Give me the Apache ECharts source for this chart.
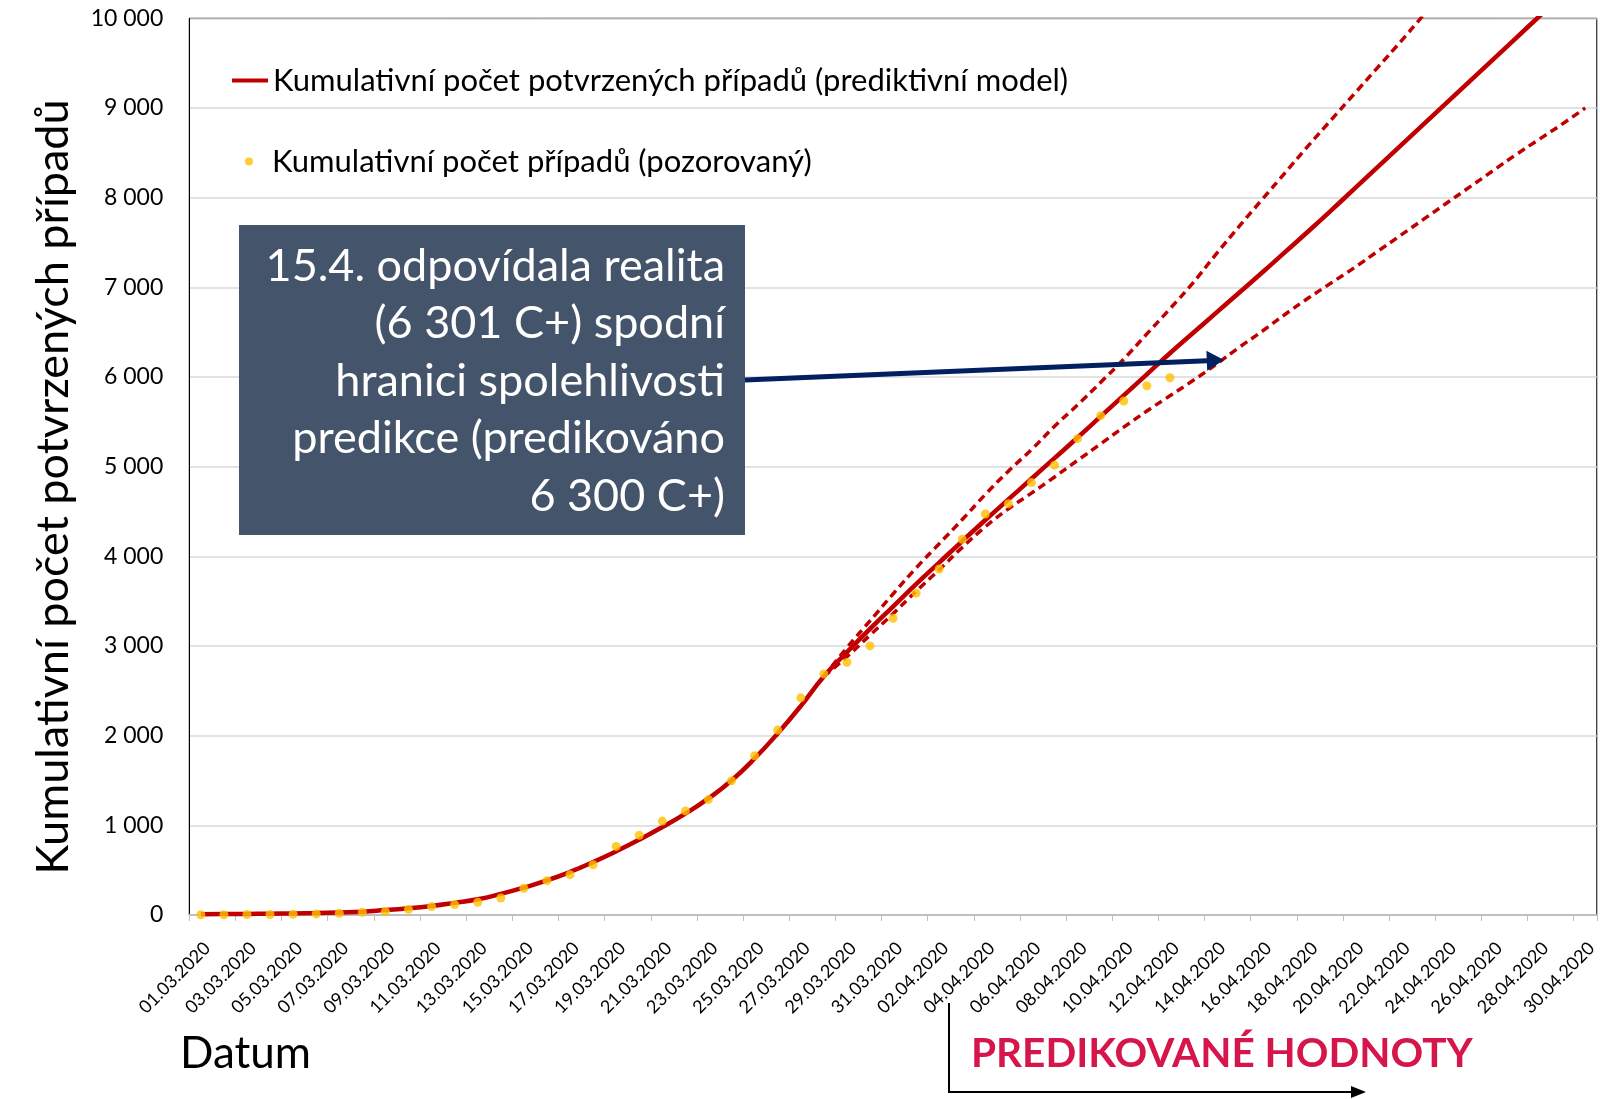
<!DOCTYPE html>
<html>
<head>
<meta charset="utf-8">
<title>Kumulativní počet potvrzených případů</title>
<script src="https://cdn.jsdelivr.net/npm/echarts@6/dist/echarts.min.js"></script>
<style>
  html, body { margin: 0; padding: 0; background: #fff; }
  #chart { width: 1600px; height: 1099px; }
</style>
</head>
<body>
<div id="chart"></div>
<script>
// dny 01.03.2020 - 30.04.2020
const dates = [
  '01.03.2020', '02.03.2020', '03.03.2020', '04.03.2020', '05.03.2020', '06.03.2020', '07.03.2020',
  '08.03.2020', '09.03.2020', '10.03.2020', '11.03.2020', '12.03.2020', '13.03.2020', '14.03.2020',
  '15.03.2020', '16.03.2020', '17.03.2020', '18.03.2020', '19.03.2020', '20.03.2020', '21.03.2020',
  '22.03.2020', '23.03.2020', '24.03.2020', '25.03.2020', '26.03.2020', '27.03.2020', '28.03.2020',
  '29.03.2020', '30.03.2020', '31.03.2020', '01.04.2020', '02.04.2020', '03.04.2020', '04.04.2020',
  '05.04.2020', '06.04.2020', '07.04.2020', '08.04.2020', '09.04.2020', '10.04.2020', '11.04.2020',
  '12.04.2020', '13.04.2020', '14.04.2020', '15.04.2020', '16.04.2020', '17.04.2020', '18.04.2020',
  '19.04.2020', '20.04.2020', '21.04.2020', '22.04.2020', '23.04.2020', '24.04.2020', '25.04.2020',
  '26.04.2020', '27.04.2020', '28.04.2020', '29.04.2020', '30.04.2020'
];

// pozorovane hodnoty (01.03. - 12.04.)
const observed = [
  3, 3, 5, 5, 8, 12, 19, 31, 38, 63, 94, 116, 141, 189, 298, 383, 450, 560, 765, 889,
  1047, 1161, 1287, 1497, 1775, 2062, 2422, 2689, 2817, 3001, 3308, 3589, 3858, 4190,
  4472, 4587, 4822, 5017, 5312, 5569, 5732, 5902, 5991
];

// prediktivni model
const model = [
  8, 10, 12, 15, 18, 22, 28, 36, 55, 75, 100, 135, 175, 235, 305, 385, 480, 590, 710, 840,
  980, 1130, 1300, 1500, 1745, 2025, 2330, 2660, 2930, 3190, 3440, 3690, 3930, 4170, 4405,
  4635, 4865, 5095, 5325, 5560, 5795, 6030, 6265, 6490, 6715, 6940, 7165, 7395, 7625, 7860,
  8100, 8340, 8580, 8820, 9060, 9300, 9540, 9780, 10020, 10260, 10500
];

// meze spolehlivosti, od 28.03.
const boundStart = 27;
const upperBound = [
  2660, 2980, 3280, 3580, 3870, 4140, 4410, 4690, 4950, 5190, 5450, 5690, 5940, 6200,
  6480, 6760, 7050, 7370, 7680, 7980, 8280, 8580, 8870, 9160, 9450, 9740, 10040, 10340
];
const lowerBound = [
  2660, 2880, 3120, 3360, 3610, 3850, 4100, 4330, 4530, 4705, 4885, 5070, 5255, 5440,
  5620, 5790, 5960, 6140, 6330, 6510, 6700, 6880, 7050, 7220, 7400, 7580, 7760, 7940,
  8120, 8300, 8480, 8650, 8820, 9000
];

const modelName = 'Kumulativní počet potvrzených případů (prediktivní model)';
const observedName = 'Kumulativní počet případů (pozorovaný)';
const noteText = '15.4. odpovídala realita\n(6 301 C+) spodní\nhranici spolehlivosti\npredikce (predikováno\n6 300 C+)';

const FONT = 'Lato';
const RED = '#c00000';

function pad(arr) {
  return new Array(boundStart).fill(null).concat(arr);
}

function fmt(v) {
  return String(v).replace(/\B(?=(\d{3})+(?!\d))/g, ' ');
}

const chart = echarts.init(document.getElementById('chart'));

const option = {
  animation: false,
  backgroundColor: '#fff',
  grid: {
    left: 189.3,
    top: 18.3,
    width: 1418.3,
    height: 896.7,
    show: true,
    borderColor: '#000',
    borderWidth: 1,
    backgroundColor: 'transparent'
  },
  legend: [
    {
      data: [{ name: modelName, icon: 'rect' }],
      left: 232,
      top: 65,
      padding: 0,
      itemWidth: 36,
      itemHeight: 4,
      selectedMode: false,
      textStyle: { fontFamily: FONT, fontSize: 31, color: '#000', lineHeight: 30 }
    },
    {
      data: [{ name: observedName, icon: 'circle' }],
      left: 245,
      top: 146,
      padding: 0,
      itemWidth: 36,
      itemHeight: 8,
      selectedMode: false,
      textStyle: { fontFamily: FONT, fontSize: 31, color: '#000', lineHeight: 30 }
    }
  ],
  xAxis: {
    type: 'category',
    data: dates,
    boundaryGap: true,
    axisLine: { lineStyle: { color: '#bfbfbf', width: 2 } },
    axisTick: { show: true, interval: 1, length: 6, lineStyle: { color: '#bfbfbf' } },
    axisLabel: {
      interval: 1,
      rotate: 45,
      margin: 24,
      verticalAlign: 'top',
      fontFamily: FONT,
      fontSize: 18,
      color: '#000'
    },
    splitLine: { show: false }
  },
  yAxis: {
    type: 'value',
    min: 0,
    max: 10000,
    interval: 1000,
    axisLine: { show: true, lineStyle: { color: '#000', width: 1 } },
    axisTick: { show: false },
    axisLabel: {
      margin: 26,
      fontFamily: FONT,
      fontSize: 23,
      color: '#000',
      formatter: fmt
    },
    splitLine: { lineStyle: { color: '#d9d9d9', width: 1.5 } }
  },
  series: [
    {
      name: modelName,
      type: 'line',
      data: model,
      smooth: true,
      symbol: 'none',
      itemStyle: { color: RED },
      lineStyle: { color: RED, width: 4.5 },
      z: 2
    },
    {
      name: 'Horní mez',
      type: 'line',
      data: pad(upperBound),
      smooth: true,
      symbol: 'none',
      itemStyle: { color: RED },
      lineStyle: { color: RED, width: 3.5, type: [8, 5] },
      z: 3
    },
    {
      name: 'Dolní mez',
      type: 'line',
      data: pad(lowerBound),
      smooth: true,
      symbol: 'none',
      itemStyle: { color: RED },
      lineStyle: { color: RED, width: 3.5, type: [8, 5] },
      z: 3
    },
    {
      name: observedName,
      type: 'scatter',
      data: observed,
      symbol: 'circle',
      symbolSize: 9,
      itemStyle: { color: '#ffc000' },
      z: 4
    }
  ],
  graphic: [
    {
      type: 'rect',
      shape: { x: 239, y: 225, width: 506, height: 310 },
      style: { fill: '#44546a' },
      z: 10
    },
    {
      type: 'text',
      x: 725,
      y: 381,
      style: {
        text: noteText,
        fill: '#fff',
        font: '45px Lato',
        align: 'right',
        verticalAlign: 'middle',
        lineHeight: 57.5
      },
      z: 11
    },
    {
      type: 'line',
      shape: { x1: 745, y1: 380, x2: 1207, y2: 360.7 },
      style: { stroke: '#002060', lineWidth: 5 },
      z: 10
    },
    {
      type: 'polygon',
      shape: { points: [[1224, 360], [1206.4, 350.7], [1207.2, 370.7]] },
      style: { fill: '#002060' },
      z: 10
    },
    {
      type: 'text',
      x: 53,
      y: 487,
      rotation: Math.PI / 2,
      style: {
        text: 'Kumulativní počet potvrzených případů',
        fill: '#000',
        font: '45px Lato',
        align: 'center',
        verticalAlign: 'middle'
      }
    },
    {
      type: 'text',
      x: 180,
      y: 1054,
      style: { text: 'Datum', fill: '#000', font: '44px Lato', verticalAlign: 'middle' }
    },
    {
      type: 'text',
      x: 971,
      y: 1054,
      style: {
        text: 'PREDIKOVANÉ HODNOTY',
        fill: '#d6154b',
        font: 'bold 40.5px Lato',
        verticalAlign: 'middle'
      }
    },
    {
      type: 'polyline',
      shape: { points: [[949, 1003], [949, 1092], [1352, 1092]] },
      style: { stroke: '#000', lineWidth: 2, fill: null }
    },
    {
      type: 'polygon',
      shape: { points: [[1366, 1092], [1351, 1086], [1351, 1098]] },
      style: { fill: '#000' }
    }
  ]
};

chart.setOption(option);
</script>
</body>
</html>
